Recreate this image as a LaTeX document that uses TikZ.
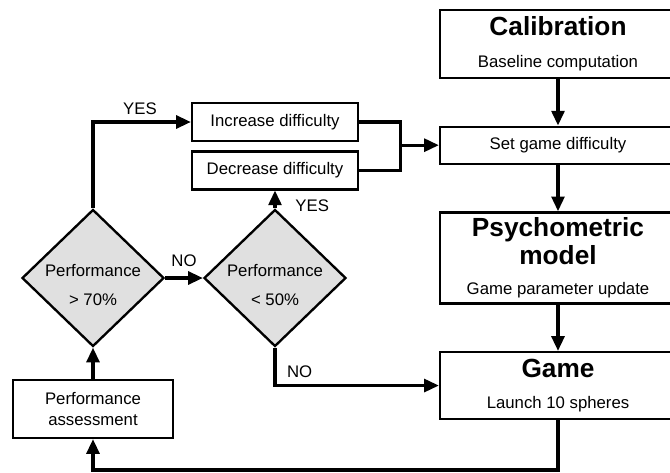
\documentclass[tikz,border=0pt]{standalone}
\usepackage{fontspec}
\setmainfont{Liberation Sans}
\usetikzlibrary{arrows.meta, positioning, shapes.geometric, calc}
\definecolor{diagray}{HTML}{E0E0E0}
\newcommand{\heading}[1]{{\fontsize{22.4}{25}\selectfont\bfseries #1}}
\tikzset{
  box/.style={rectangle,draw,line width=2pt,align=center,inner sep=2pt},
  stage/.style={box,minimum width=7.08cm},
  decision/.style={diamond,draw,line width=2pt,fill=diagray,inner sep=0pt,minimum width=4.26cm,minimum height=4.11cm},
  question/.style={align=center,yshift=-0.21cm},
  link/.style={line width=2.6pt},
  line/.style={link,-{Triangle[length=12.5pt,width=11pt]}}
}
\begin{document}
\begin{tikzpicture}[x=0.03cm, y=-0.03cm, node distance=1.39cm,
  font=\fontsize{14.3}{17}\selectfont]
\useasboundingbox (0,0) rectangle (670,472);
% right column
\node[stage, minimum height=2.04cm] (cal) at (558,44) {\heading{Calibration}\\[10pt] Baseline computation};
\node[stage, minimum height=1.11cm, below=of cal] (set) {Set game difficulty};
\node[stage, minimum height=2.73cm, inner ysep=0pt, below=of set] (psy) {\heading{Psychometric}\\[2pt] \heading{model}\\[9pt] Game parameter update};
\node[stage, minimum height=2.01cm, below=of psy] (game) {\heading{Game}\\[10pt] Launch 10 spheres};
% left part
\node[box, minimum width=4.98cm, minimum height=1.14cm] (inc) at (275,122) {Increase difficulty};
\node[box, minimum width=4.98cm, minimum height=1.14cm, below=0.24cm of inc] (dec) {Decrease difficulty};
\node[decision, label={[question]center:{Performance\\[8.5pt]> 70\%}}] (d70) at (93,278) {};
\node[decision, label={[question]center:{Performance\\[8.5pt]< 50\%}}] (d50) at (275,278) {};
\node[box, minimum width=4.8cm, minimum height=1.74cm] (assess) at (93,409) {Performance\\[1pt] assessment};
\coordinate (merge) at ($(inc.east |- set.west)+(41,0)$);
\coordinate (back) at (93,470);

\draw[line] (cal) -- (set);
\draw[line] (set) -- (psy);
\draw[line] (psy) -- (game);
\draw[link] (inc.east) -| (merge) |- (dec.east);
\draw[line] (merge) -- (set.west);
\draw[line] (d70.north) |- node[pos=0.74, above=2pt] {YES} (inc.west);
\draw[line] (d70.east) -- node[above=5pt] {NO} (d50.west);
\draw[line] (d50.north) -- node[pos=0.15, right=0.45cm] {YES} (dec.south);
\draw[line] (d50.south) |- node[pos=0.575, above=2pt] {NO} (game.west);
\draw[line] (assess) -- (d70);
\draw[line] (game.south) -- (game.south |- back) -| (assess.south);
\end{tikzpicture}
\end{document}
